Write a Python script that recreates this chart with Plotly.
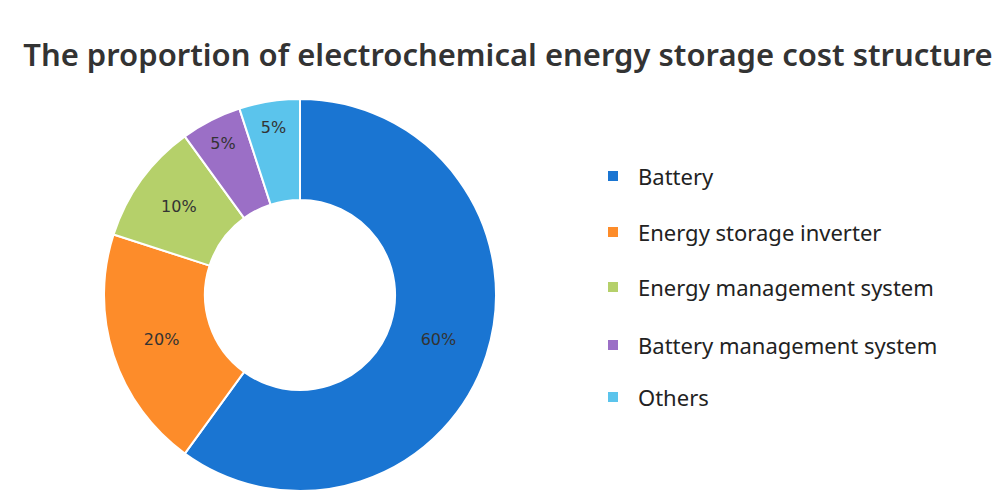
import plotly.graph_objects as go

labels = ["Battery", "Energy storage inverter", "Energy management system",
          "Battery management system", "Others"]
values = [60, 20, 10, 5, 5]
colors = ["#1a75d2", "#fd8c2a", "#b5d06a", "#9b6fc6", "#5bc4ec"]

fig = go.Figure()
fig.add_trace(go.Pie(
    labels=labels,
    values=values,
    hole=0.485,
    sort=False,
    direction="clockwise",
    rotation=0,
    marker=dict(colors=colors, line=dict(color="white", width=2)),
    textinfo="percent",
    texttemplate="%{percent:.0%}",
    textfont=dict(color="#333333", size=16, family="DejaVu Sans"),
    insidetextorientation="horizontal",
    domain=dict(x=[0.096, 0.488], y=[0.034, 0.818]),
    showlegend=False,
))

# legend drawn by hand to match the wide row spacing
row_y = [168, 224, 279, 337, 389]
for lab, col, py in zip(labels, colors, row_y):
    yp = 1 - py / 500
    fig.add_shape(type="rect", xref="paper", yref="paper",
                  x0=0.600, x1=0.610, y0=yp - 0.01, y1=yp + 0.01,
                  fillcolor=col, line=dict(width=0))
    fig.add_annotation(x=0.628, y=yp, xref="paper", yref="paper",
                       text=lab, showarrow=False, xanchor="left", yanchor="middle",
                       font=dict(size=22, color="#222222", family="Noto Sans"))

fig.update_layout(
    width=1000, height=500,
    margin=dict(l=0, r=0, t=0, b=0),
    paper_bgcolor="white",
    title=dict(text="The proportion of electrochemical energy storage cost structure",
               x=0.5, y=0.905, xanchor="center", yanchor="middle",
               font=dict(size=31, color="#333333", family="Noto Sans", weight=600)),
)

fig.write_html("out.html")
